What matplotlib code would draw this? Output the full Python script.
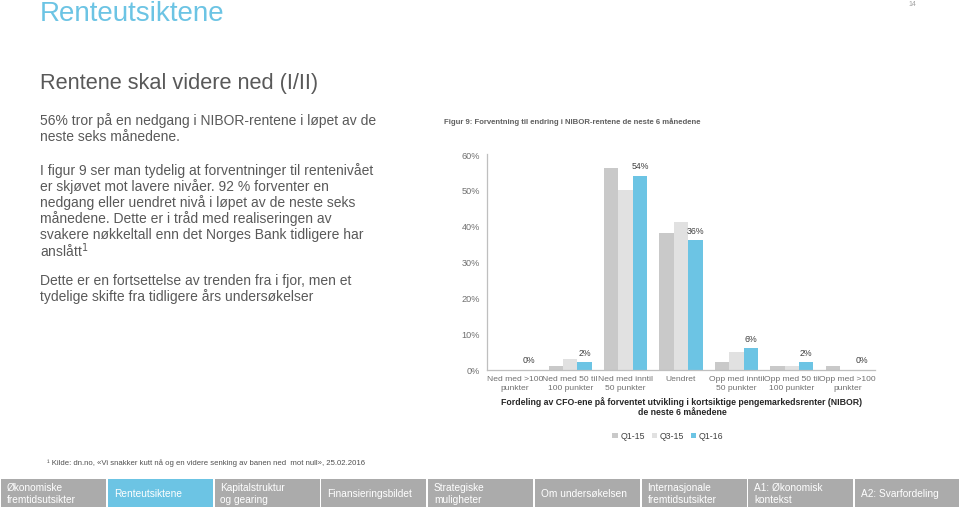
import numpy as np
import matplotlib
matplotlib.use("Agg")
import matplotlib.pyplot as plt
from matplotlib.patches import Rectangle

plt.rcParams['font.family'] = ['Liberation Sans', 'DejaVu Sans']

# data
categories = ['Ned med >100\npunkter', 'Ned med 50 til\n100 punkter', 'Ned med inntil\n50 punkter',
              'Uendret', 'Opp med inntil\n50 punkter', 'Opp med 50 til\n100 punkter', 'Opp med >100\npunkter']
q1_15 = [0, 1, 56, 38, 2, 1, 1]
q3_15 = [0, 3, 50, 41, 5, 1, 0]
q1_16 = [0, 2, 54, 36, 6, 2, 0]
series_names = ['Q1-15', 'Q3-15', 'Q1-16']
y_ticks = [0, 10, 20, 30, 40, 50, 60]

nav_labels = ['Økonomiske\nfremtidsutsikter', 'Renteutsiktene', 'Kapitalstruktur\nog gearing',
              'Finansieringsbildet', 'Strategiske\nmuligheter', 'Om undersøkelsen',
              'Internasjonale\nfremtidsutsikter', 'A1: Økonomisk\nkontekst', 'A2: Svarfordeling']
active_nav = 1

BLUE = '#6CC4E4'
GREY1 = '#C9C9C9'
GREY2 = '#E1E1E1'
TXT = '#595959'

W, H = 959, 510
fig = plt.figure(figsize=(W / 100, H / 100), dpi=100)
fig.patch.set_facecolor('white')

def fx(px):
    return px / W

def fy(py):
    return 1 - py / H

# slide texts
fig.text(fx(40), fy(14), 'Renteutsiktene', fontsize=20, color=BLUE, va='center', ha='left')
fig.text(fx(912), fy(4), '14', fontsize=5, color='#A0A0A0', va='center', ha='center')
fig.text(fx(40), fy(83), 'Rentene skal videre ned (I/II)', fontsize=15.7, color=TXT, va='center', ha='left')

body = [
    (121, '56% tror på en nedgang i NIBOR-rentene i løpet av de'),
    (137, 'neste seks månedene.'),
    (171, 'I figur 9 ser man tydelig at forventninger til rentenivået'),
    (187, 'er skjøvet mot lavere nivåer. 92 % forventer en'),
    (203, 'nedgang eller uendret nivå i løpet av de neste seks'),
    (219, 'månedene. Dette er i tråd med realiseringen av'),
    (235, 'svakere nøkkeltall enn det Norges Bank tidligere har'),
    (251, 'anslått$^1$'),
    (281, 'Dette er en fortsettelse av trenden fra i fjor, men et'),
    (297, 'tydelige skifte fra tidligere års undersøkelser'),
]
for y, t in body:
    fig.text(fx(40), fy(y), t, fontsize=10.0, color=TXT, va='center', ha='left')

fig.text(fx(444), fy(122), 'Figur 9: Forventning til endring i NIBOR-rentene de neste 6 månedene',
         fontsize=5.6, color='#606060', fontweight='bold', va='center', ha='left')

fig.text(fx(47), fy(463), '¹ Kilde: dn.no, «Vi snakker kutt nå og en videre senking av banen ned  mot null», 25.02.2016',
         fontsize=5.6, color='#505050', va='center', ha='left')

# chart
ax = fig.add_axes([fx(487), fy(370.5), fx(875) - fx(487), fy(155) - fy(370.5)])
x = np.arange(len(categories))
bw = 0.26
ax.bar(x - bw, q1_15, bw, color=GREY1, label=series_names[0])
ax.bar(x, q3_15, bw, color=GREY2, label=series_names[1])
b3 = ax.bar(x + bw, q1_16, bw, color=BLUE, label=series_names[2])
for rect, v in zip(b3, q1_16):
    ax.text(rect.get_x() + rect.get_width() / 2, v + 1.5, f'{v}%', ha='center', va='bottom',
            fontsize=6.3, color='#404040')

ax.set_xlim(-0.5, len(categories) - 0.5)
ax.set_ylim(0, 60)
ax.set_yticks(y_ticks)
ax.set_yticklabels([f'{v}%' for v in y_ticks])
ax.set_xticks(x)
ax.set_xticklabels(categories)
ax.tick_params(axis='both', length=0, colors='#707070')
ax.tick_params(axis='y', pad=5, labelsize=6.6)
ax.tick_params(axis='x', pad=4, labelsize=6.1)
for lbl in ax.get_xticklabels():
    lbl.set_linespacing(1.3)
for s in ['top', 'right']:
    ax.spines[s].set_visible(False)
for s in ['left', 'bottom']:
    ax.spines[s].set_color('#BFBFBF')
    ax.spines[s].set_linewidth(0.9)

fig.text(fx(682), fy(407), 'Fordeling av CFO-ene på forventet utvikling i kortsiktige pengemarkedsrenter (NIBOR)\nde neste 6 månedene',
         fontsize=6.3, fontweight='bold', color='#262626', ha='center', va='center', linespacing=1.15)

ax.legend(loc='center', bbox_to_anchor=(fx(668), fy(437)), bbox_transform=fig.transFigure, ncol=3,
          frameon=False, fontsize=6.3, handlelength=0.6, handleheight=0.6, handletextpad=0.3,
          columnspacing=0.8, labelcolor='#404040')

# navigation bar
box_w = 105
gap = 1.75
for i, lab in enumerate(nav_labels):
    left = 1 + i * (box_w + gap)
    col = BLUE if i == active_nav else '#ABABAB'
    fig.patches.append(Rectangle((fx(left), fy(508)), fx(box_w), fy(480) - fy(508),
                                 transform=fig.transFigure, facecolor=col, edgecolor='none'))
    fig.text(fx(left + 6), fy(494), lab, fontsize=7.3, color='white', ha='left', va='center',
             linespacing=1.15)

fig.savefig('out.png', dpi=100)
